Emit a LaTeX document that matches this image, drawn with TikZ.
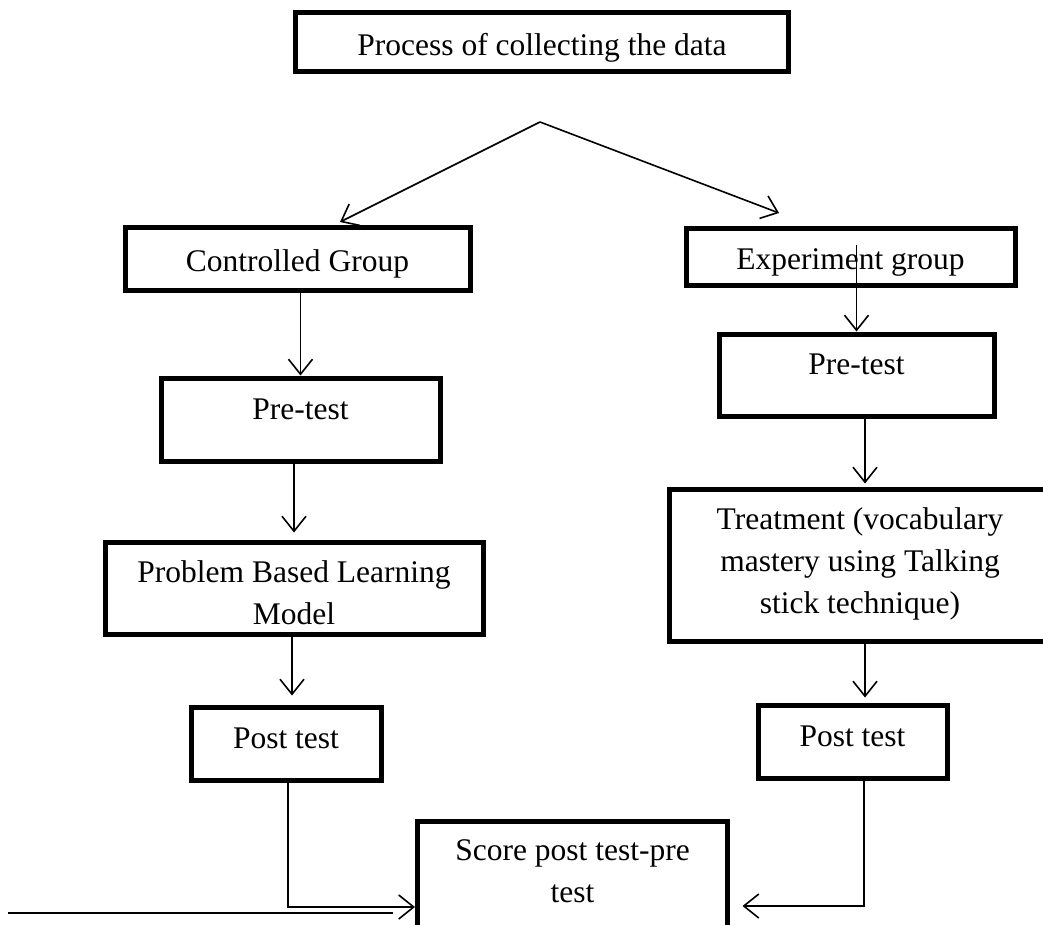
\documentclass[tikz,border=0pt]{standalone}
\usepackage{fontspec}
\setmainfont{Liberation Serif}
\usetikzlibrary{arrows.meta}

\begin{document}
\begin{tikzpicture}[x=1pt,y=-1pt,
  box/.style={draw,line width=5pt,inner sep=0pt,align=center,
    font=\fontsize{31.5}{42}\selectfont,text height=28pt,text depth=#1},
  flow/.style={line width=1.6pt,-{Straight Barb[length=15pt,width=24pt,line width=1.6pt]}}]
\useasboundingbox (0,0) rectangle (1043,924);
\clip (0,0) rectangle (1043,924);
\node[box=1pt,minimum width=493pt,minimum height=59pt] (top) at (542,41.5) {Process of collecting the data};
\node[box=3pt,minimum width=345pt,minimum height=63pt] (ctrl) at (297.5,258.5) {Controlled Group};
\node[box=3pt,minimum width=329pt,minimum height=57pt] (expt) at (850.5,256.5) {Experiment group};
\node[box=29pt,minimum width=279pt,minimum height=83pt] (preL) at (300.5,419.5) {Pre-test};
\node[box=30pt,minimum width=275pt,minimum height=82pt] (preR) at (856.5,375) {Pre-test};
\node[box=0pt,text height=72pt,minimum width=378pt,minimum height=92pt] (pbl) at (294,588) {Problem Based Learning\\Model};
\node[box=16pt,text height=112pt,minimum width=382pt,minimum height=152pt] (treat) at (860,565) {Treatment (vocabulary\\mastery using Talking\\stick technique)};
\node[box=19pt,minimum width=190pt,minimum height=73pt] (postL) at (286,743.5) {Post test};
\node[box=19pt,minimum width=189pt,minimum height=73pt] (postR) at (852.5,741.5) {Post test};
\node[box=22pt,text height=70pt,minimum width=310pt,minimum height=114pt] (score) at (572.5,878) {Score post test-pre\\test};
\coordinate (split) at (540,122);
\draw[flow] (split) -- ([xshift=42.5pt,yshift=2.5pt]ctrl.north);
\draw[flow] (split) -- ([xshift=-71.5pt,yshift=12.5pt]expt.north);
\draw[flow] (preL.north |- ctrl.south) -- (preL.north);
\draw[flow,shorten >=7pt] (pbl.north |- preL.south) -- (pbl.north);
\draw[flow,shorten >=9pt] ([xshift=6pt]postL.north |- pbl.south) -- ([xshift=6pt]postL.north);
\draw[flow] ([yshift=11.5pt]preR.north |- expt.center) -- (preR.north);
\draw[flow,shorten >=3pt] ([xshift=5pt]treat.north |- preR.south) -- ([xshift=5pt]treat.north);
\draw[flow,shorten >=5pt] ([xshift=5pt]treat.south) -- ([xshift=5pt]treat.south |- postR.north);
\draw[flow] ([xshift=2pt]postL.south) |- ([yshift=-29pt]score.west);
\draw[flow,shorten >=12.5pt] ([xshift=11.5pt]postR.south) |- ([yshift=-28pt]score.east);
\coordinate (lineA) at (8,913);
\coordinate (lineB) at (393,913);
\draw[line width=2pt] (lineA) -- (lineB);
\end{tikzpicture}
\end{document}
